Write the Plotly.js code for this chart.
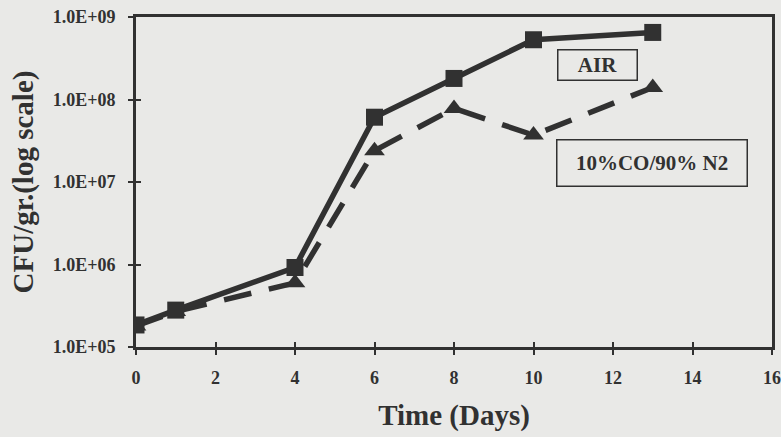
<!DOCTYPE html>
<html>
<head>
<meta charset="utf-8">
<script src="https://cdn.plot.ly/plotly-3.0.1.min.js"></script>
<style>html,body{margin:0;padding:0;background:#e9e9e7;}#chart{width:781px;height:437px;}</style>
</head>
<body>
<div id="chart"></div>
<script>
const days = [0, 1, 4, 6, 8, 10, 13];
const airCFU = [1.85e5, 2.8e5, 9.2e5, 6.1e7, 1.8e8, 5.3e8, 6.5e8];
const coCFU = [1.8e5, 2.7e5, 6.0e5, 2.4e7, 7.8e7, 3.7e7, 1.4e8];
const seriesLabels = ["AIR", "10%CO/90% N2"];
const yTickVals = [1e5, 1e6, 1e7, 1e8, 1e9];
const yTickText = ["1.0E+05", "1.0E+06", "1.0E+07", "1.0E+08", "1.0E+09"];
const xTickVals = [0, 2, 4, 6, 8, 10, 12, 14, 16];

const ink = "#313131";
const bg = "#e9e9e7";
const fontFam = "Liberation Serif, Times New Roman, serif";

const traces = [
  {
    x: days, y: coCFU, name: seriesLabels[1], type: "scatter", mode: "lines+markers",
    line: {color: ink, width: 5.5, dash: "28px,18px"},
    marker: {symbol: "triangle-up", size: 18, color: ink}
  },
  {
    x: days, y: airCFU, name: seriesLabels[0], type: "scatter", mode: "lines+markers",
    line: {color: ink, width: 5.5},
    marker: {symbol: "square", size: 17, color: ink}
  },
  {x: [], y: [], xaxis: "x2", yaxis: "y2", type: "scatter", showlegend: false, hoverinfo: "skip"}
];

const layout = {
  width: 781, height: 437,
  margin: {l: 136, r: 9, t: 17, b: 90},
  paper_bgcolor: bg,
  plot_bgcolor: bg,
  showlegend: false,
  font: {family: fontFam, color: ink},
  xaxis: {
    range: [0, 16], tickvals: xTickVals, ticktext: xTickVals.map(v => "<b>" + v + "</b>"),
    showgrid: false, zeroline: false, showline: true, mirror: true,
    linecolor: ink, linewidth: 3,
    ticks: "outside", ticklen: 5, tickwidth: 2, tickcolor: ink,
    ticklabelstandoff: 7,
    tickfont: {family: fontFam, size: 18, color: ink},
    title: {text: "<b>Time (Days)</b>", font: {family: fontFam, size: 29, color: ink}, standoff: 19}
  },
  yaxis: {
    type: "log", range: [5, 9], tickvals: yTickVals, ticktext: yTickText.map(t => "<b>" + t + "</b>"),
    showgrid: false, zeroline: false, showline: true, mirror: true,
    linecolor: ink, linewidth: 3,
    ticks: "outside", ticklen: 5, tickwidth: 2, tickcolor: ink,
    ticklabelstandoff: 9,
    tickfont: {family: fontFam, size: 18, color: ink},
    title: {text: "<b>CFU/gr.(log scale)</b>", font: {family: fontFam, size: 29, color: ink}, standoff: 11}
  },
  xaxis2: {
    overlaying: "x", range: [0, 16], tickvals: xTickVals, showticklabels: false,
    showgrid: false, zeroline: false, showline: false,
    ticks: "inside", ticklen: 5, tickwidth: 2, tickcolor: ink
  },
  yaxis2: {
    overlaying: "y", type: "log", range: [5, 9], tickvals: yTickVals, showticklabels: false,
    showgrid: false, zeroline: false, showline: false,
    ticks: "inside", ticklen: 5, tickwidth: 2, tickcolor: ink
  },
  annotations: [
    {
      xref: "paper", yref: "paper", x: (597 - 136) / 636, y: (347 - 65) / 330,
      xanchor: "center", yanchor: "middle",
      text: "<b>" + seriesLabels[0] + "</b>", showarrow: false,
      font: {family: fontFam, size: 21, color: ink},
      bordercolor: ink, borderwidth: 1.5, borderpad: 2, width: 74, height: 25,
      bgcolor: bg
    },
    {
      xref: "paper", yref: "paper", x: (652 - 136) / 636, y: (347 - 163) / 330,
      xanchor: "center", yanchor: "middle",
      text: "<b>" + seriesLabels[1] + "</b>", showarrow: false,
      font: {family: fontFam, size: 21, color: ink},
      bordercolor: ink, borderwidth: 1.5, borderpad: 2, width: 185, height: 41,
      bgcolor: bg
    }
  ]
};

Plotly.newPlot("chart", traces, layout, {displayModeBar: false, staticPlot: true});
</script>
</body>
</html>
